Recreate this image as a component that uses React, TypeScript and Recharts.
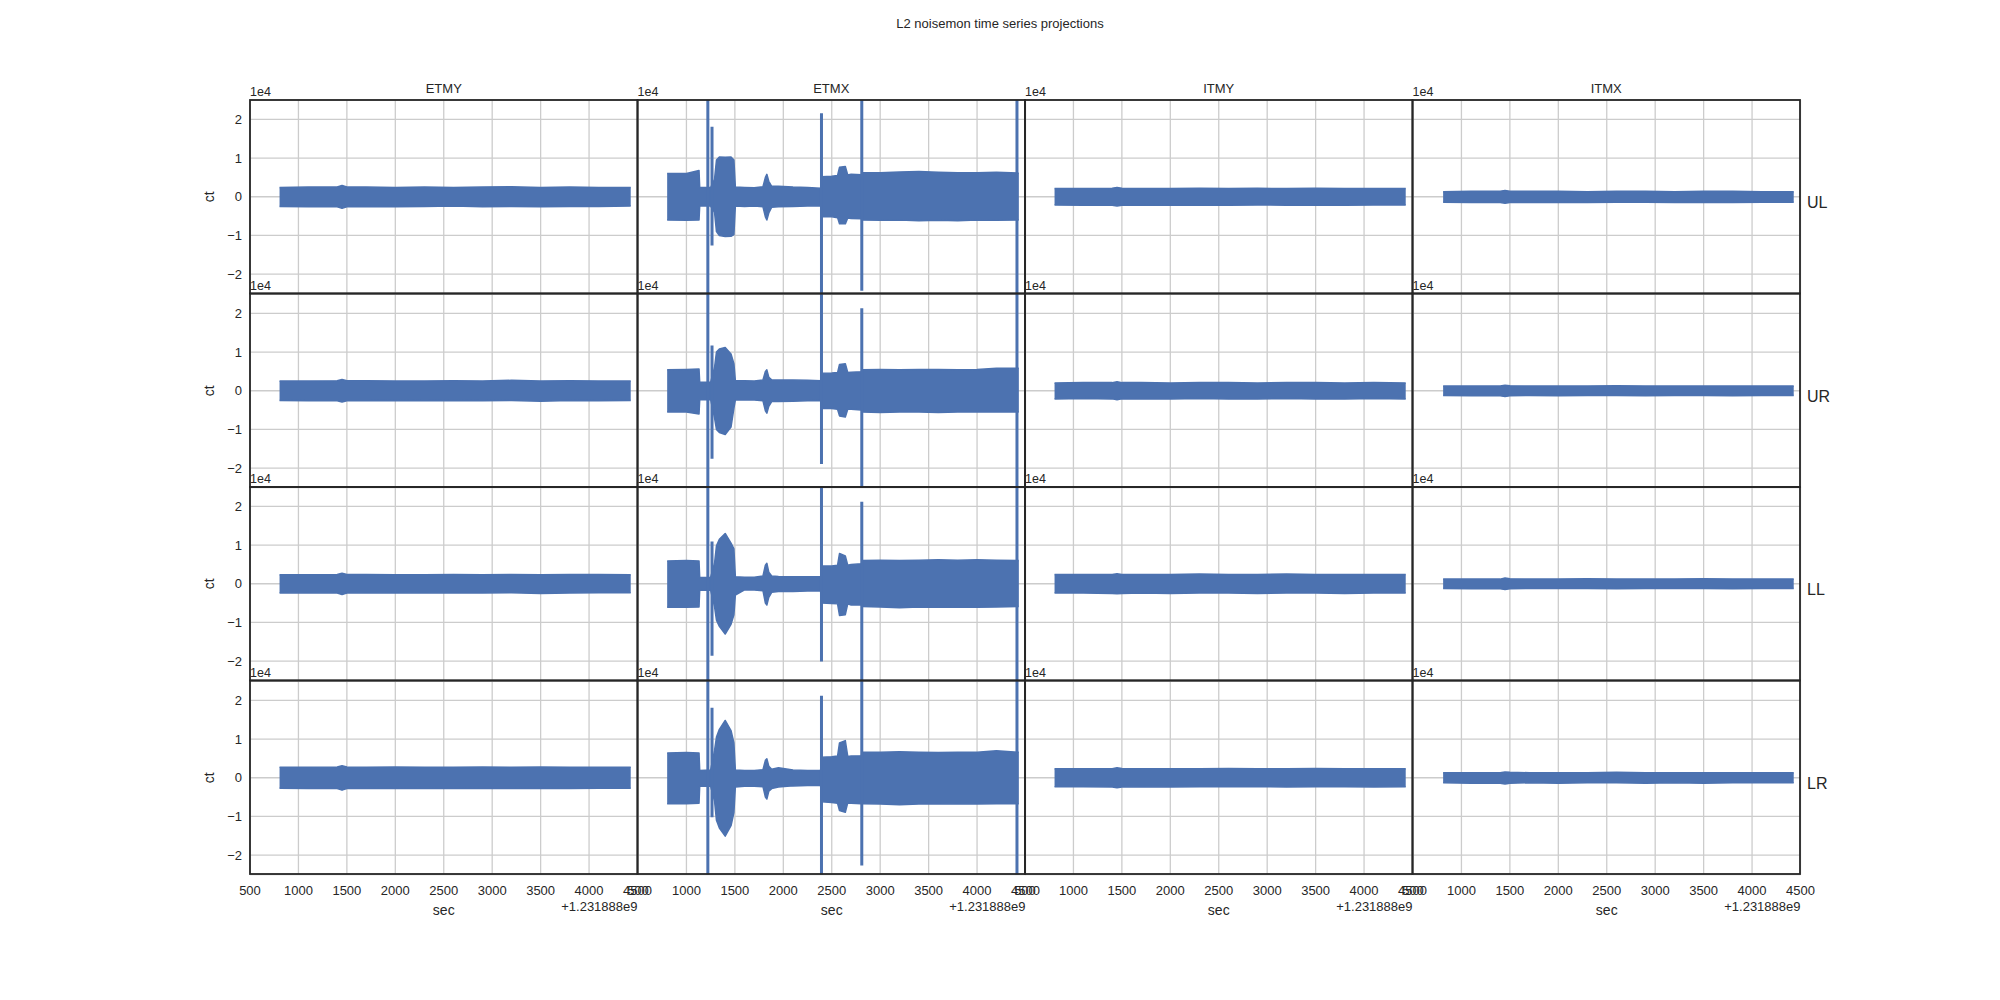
import React from 'react';
import {
  ComposedChart,
  Area,
  XAxis,
  YAxis,
  CartesianGrid,
  ReferenceLine,
  Label
} from 'recharts';

const columns = ['ETMY', 'ETMX', 'ITMY', 'ITMX'];
const rows = ['UL', 'UR', 'LL', 'LR'];
const xTicks = [500, 1000, 1500, 2000, 2500, 3000, 3500, 4000, 4500];
const yTicks = [-2, -1, 0, 1, 2];

// quiet optics: envelope of the noise band (units of 1e4 ct), sec after 1.231888e9
const flatTime = [805, 1100, 1400, 1450, 1500, 1700, 2000, 2300, 2600, 2900, 3200, 3500, 3800, 4100, 4430];
const itmxTime = [811, 1100, 1400, 1450, 1500, 1700, 2000, 2300, 2600, 2900, 3200, 3500, 3800, 4100, 4430];

const etmyUlHi = [0.24, 0.25, 0.25, 0.29, 0.25, 0.25, 0.24, 0.25, 0.24, 0.25, 0.26, 0.24, 0.25, 0.24, 0.24];
const etmyUlLo = [-0.25, -0.26, -0.26, -0.3, -0.26, -0.25, -0.26, -0.25, -0.24, -0.26, -0.25, -0.26, -0.25, -0.25, -0.24];
const etmyUrHi = [0.25, 0.25, 0.26, 0.29, 0.26, 0.26, 0.25, 0.25, 0.26, 0.25, 0.27, 0.25, 0.26, 0.25, 0.25];
const etmyUrLo = [-0.25, -0.26, -0.26, -0.29, -0.26, -0.26, -0.25, -0.26, -0.25, -0.26, -0.25, -0.27, -0.25, -0.26, -0.25];
const etmyLlHi = [0.23, 0.23, 0.24, 0.27, 0.24, 0.24, 0.23, 0.23, 0.24, 0.23, 0.24, 0.23, 0.24, 0.24, 0.23];
const etmyLlLo = [-0.24, -0.23, -0.24, -0.28, -0.24, -0.23, -0.24, -0.23, -0.24, -0.24, -0.23, -0.25, -0.24, -0.23, -0.23];
const etmyLrHi = [0.27, 0.27, 0.28, 0.31, 0.28, 0.27, 0.28, 0.27, 0.27, 0.28, 0.27, 0.28, 0.27, 0.27, 0.27];
const etmyLrLo = [-0.27, -0.28, -0.28, -0.32, -0.28, -0.28, -0.27, -0.28, -0.27, -0.28, -0.28, -0.27, -0.28, -0.27, -0.27];

const itmyUlHi = [0.21, 0.21, 0.22, 0.24, 0.22, 0.21, 0.21, 0.22, 0.21, 0.22, 0.21, 0.22, 0.21, 0.21, 0.21];
const itmyUlLo = [-0.21, -0.22, -0.22, -0.24, -0.22, -0.21, -0.22, -0.21, -0.22, -0.21, -0.22, -0.21, -0.22, -0.21, -0.21];
const itmyUrHi = [0.2, 0.21, 0.21, 0.23, 0.21, 0.21, 0.2, 0.21, 0.21, 0.2, 0.21, 0.21, 0.2, 0.21, 0.2];
const itmyUrLo = [-0.21, -0.2, -0.21, -0.23, -0.21, -0.21, -0.21, -0.2, -0.21, -0.21, -0.2, -0.21, -0.21, -0.2, -0.21];
const itmyLlHi = [0.24, 0.24, 0.24, 0.26, 0.24, 0.24, 0.24, 0.25, 0.24, 0.24, 0.25, 0.24, 0.24, 0.24, 0.24];
const itmyLlLo = [-0.24, -0.24, -0.25, -0.26, -0.25, -0.24, -0.25, -0.24, -0.24, -0.25, -0.24, -0.24, -0.25, -0.24, -0.24];
const itmyLrHi = [0.23, 0.23, 0.23, 0.26, 0.24, 0.23, 0.23, 0.23, 0.24, 0.23, 0.23, 0.24, 0.23, 0.23, 0.23];
const itmyLrLo = [-0.23, -0.23, -0.24, -0.26, -0.24, -0.23, -0.24, -0.23, -0.23, -0.23, -0.24, -0.23, -0.23, -0.24, -0.23];

const itmxUlHi = [0.13, 0.14, 0.14, 0.16, 0.14, 0.14, 0.14, 0.13, 0.14, 0.14, 0.13, 0.14, 0.14, 0.13, 0.13];
const itmxUlLo = [-0.14, -0.15, -0.15, -0.17, -0.15, -0.15, -0.14, -0.15, -0.14, -0.14, -0.15, -0.14, -0.15, -0.14, -0.14];
const itmxUrHi = [0.12, 0.12, 0.12, 0.14, 0.13, 0.12, 0.12, 0.12, 0.13, 0.12, 0.12, 0.12, 0.12, 0.12, 0.12];
const itmxUrLo = [-0.12, -0.13, -0.13, -0.15, -0.13, -0.12, -0.13, -0.12, -0.12, -0.13, -0.12, -0.12, -0.13, -0.12, -0.12];
const itmxLlHi = [0.12, 0.12, 0.12, 0.15, 0.13, 0.12, 0.12, 0.13, 0.12, 0.12, 0.12, 0.13, 0.12, 0.12, 0.12];
const itmxLlLo = [-0.12, -0.13, -0.13, -0.15, -0.13, -0.12, -0.12, -0.12, -0.13, -0.12, -0.12, -0.12, -0.13, -0.12, -0.12];
const itmxLrHi = [0.13, 0.13, 0.13, 0.15, 0.14, 0.13, 0.13, 0.13, 0.14, 0.13, 0.13, 0.13, 0.13, 0.13, 0.13];
const itmxLrLo = [-0.13, -0.14, -0.14, -0.16, -0.14, -0.13, -0.14, -0.13, -0.13, -0.14, -0.13, -0.14, -0.13, -0.13, -0.13];

// ETMX: bursts and glitches
const etmxTime = [
  801, 1000, 1130, 1137, 1250, 1290, 1310, 1340, 1400, 1460, 1490, 1505, 1600, 1700,
  1790, 1815, 1830, 1850, 1880, 1950, 2100, 2250, 2385, 2395, 2500, 2560, 2580, 2640,
  2665, 2700, 2805, 2815, 3000, 3200, 3400, 3600, 3800, 4000, 4200, 4430
];
const etmxUlHi = [
  0.6, 0.6, 0.68, 0.24, 0.24, 0.45, 0.95, 1.03, 1.02, 1.03, 0.95, 0.25, 0.24, 0.23,
  0.26, 0.5, 0.58, 0.4, 0.27, 0.27, 0.25, 0.24, 0.22, 0.52, 0.53, 0.55, 0.76, 0.78,
  0.56, 0.58, 0.57, 0.62, 0.62, 0.64, 0.65, 0.63, 0.62, 0.62, 0.63, 0.61
];
const etmxUlLo = [
  -0.6, -0.61, -0.6, -0.24, -0.24, -0.4, -0.9, -1.0, -1.03, -1.02, -0.98, -0.24, -0.25, -0.24,
  -0.26, -0.52, -0.6, -0.42, -0.27, -0.26, -0.25, -0.24, -0.23, -0.52, -0.52, -0.54, -0.7, -0.7,
  -0.55, -0.56, -0.57, -0.6, -0.61, -0.6, -0.62, -0.61, -0.62, -0.6, -0.61, -0.6
];
const etmxUrHi = [
  0.54, 0.55, 0.56, 0.22, 0.22, 0.6, 1.0, 1.08, 1.12, 0.95, 0.7, 0.26, 0.26, 0.25,
  0.28, 0.5, 0.54, 0.35, 0.28, 0.28, 0.28, 0.27, 0.26, 0.45, 0.46, 0.47, 0.68, 0.7,
  0.47, 0.48, 0.49, 0.54, 0.55, 0.54, 0.55, 0.55, 0.54, 0.55, 0.58, 0.58
];
const etmxUrLo = [
  -0.55, -0.55, -0.6, -0.23, -0.23, -0.7, -1.0, -1.08, -1.13, -0.94, -0.45, -0.24, -0.24, -0.24,
  -0.26, -0.52, -0.58, -0.4, -0.28, -0.28, -0.27, -0.26, -0.25, -0.46, -0.46, -0.48, -0.65, -0.68,
  -0.48, -0.48, -0.5, -0.55, -0.56, -0.55, -0.55, -0.56, -0.55, -0.55, -0.55, -0.55
];
const etmxLlHi = [
  0.59, 0.6, 0.59, 0.16, 0.17, 0.53, 0.98, 1.15, 1.3, 1.05, 0.9, 0.18, 0.17, 0.17,
  0.2, 0.48, 0.53, 0.3, 0.2, 0.19, 0.18, 0.18, 0.18, 0.46, 0.46, 0.48, 0.78, 0.72,
  0.48, 0.5, 0.52, 0.6, 0.61, 0.6, 0.61, 0.62, 0.61, 0.62, 0.61, 0.6
];
const etmxLlLo = [
  -0.61, -0.61, -0.6, -0.16, -0.17, -0.59, -0.94, -1.1, -1.3, -1.05, -0.8, -0.29, -0.16, -0.16,
  -0.18, -0.5, -0.55, -0.35, -0.22, -0.2, -0.2, -0.19, -0.19, -0.5, -0.51, -0.52, -0.82, -0.8,
  -0.52, -0.55, -0.55, -0.59, -0.6, -0.62, -0.6, -0.61, -0.6, -0.61, -0.6, -0.59
];
const etmxLrHi = [
  0.64, 0.65, 0.64, 0.19, 0.2, 0.7, 1.05, 1.25, 1.48, 1.22, 0.9, 0.2, 0.19, 0.19,
  0.21, 0.45, 0.49, 0.3, 0.22, 0.26, 0.2, 0.19, 0.19, 0.53, 0.54, 0.56, 0.9, 0.96,
  0.55, 0.56, 0.57, 0.66, 0.66, 0.67, 0.66, 0.65, 0.66, 0.66, 0.7, 0.66
];
const etmxLrLo = [
  -0.67, -0.67, -0.66, -0.22, -0.22, -0.6, -1.1, -1.3, -1.51, -1.24, -0.9, -0.24, -0.22, -0.22,
  -0.23, -0.5, -0.55, -0.35, -0.28, -0.24, -0.21, -0.2, -0.2, -0.62, -0.64, -0.66, -0.85, -0.89,
  -0.65, -0.66, -0.67, -0.67, -0.68, -0.7, -0.68, -0.68, -0.67, -0.68, -0.67, -0.67
];

// ETMX glitches: time and vertical extent (beyond +-2.5 is clipped by the axes)
const etmxSpikeTime = [1221, 1264, 2394, 2810, 4412];
const etmxUlSpikeLo = [-3, -1.26, -3, -2.43, -3];
const etmxUlSpikeHi = [3, 1.81, 2.16, 3, 3];
const etmxUrSpikeLo = [-3, -1.76, -1.89, -3, -3];
const etmxUrSpikeHi = [3, 1.17, 3, 2.13, 3];
const etmxLlSpikeLo = [-3, -1.86, -2.01, -3, -3];
const etmxLlSpikeHi = [3, 1.09, 3, 2.12, 3];
const etmxLrSpikeLo = [-3, -1.02, -3, -2.27, -3];
const etmxLrSpikeHi = [3, 1.81, 2.12, 3, 3];

const BLUE = '#4c72b0';
const TEXT = '#262626';
const FONT = '"Liberation Sans", Arial, sans-serif';

const PLOT_LEFT = 250;
const PLOT_TOP = 100;
const CELL_W = 387.5;
const CELL_H = 193.5;
const ML = 60;
const MR = 20;
const MT = 10;
const MB = 50;
const Y_AXIS_W = 50;
const X_AXIS_H = 45;

type PanelData = {
  time: number[];
  hi: number[];
  lo: number[];
  spikeTime: number[];
  spikeLo: number[];
  spikeHi: number[];
};

const none: number[] = [];

// rows x columns lookup
const panels: PanelData[][] = [
  [
    { time: flatTime, hi: etmyUlHi, lo: etmyUlLo, spikeTime: none, spikeLo: none, spikeHi: none },
    { time: etmxTime, hi: etmxUlHi, lo: etmxUlLo, spikeTime: etmxSpikeTime, spikeLo: etmxUlSpikeLo, spikeHi: etmxUlSpikeHi },
    { time: flatTime, hi: itmyUlHi, lo: itmyUlLo, spikeTime: none, spikeLo: none, spikeHi: none },
    { time: itmxTime, hi: itmxUlHi, lo: itmxUlLo, spikeTime: none, spikeLo: none, spikeHi: none }
  ],
  [
    { time: flatTime, hi: etmyUrHi, lo: etmyUrLo, spikeTime: none, spikeLo: none, spikeHi: none },
    { time: etmxTime, hi: etmxUrHi, lo: etmxUrLo, spikeTime: etmxSpikeTime, spikeLo: etmxUrSpikeLo, spikeHi: etmxUrSpikeHi },
    { time: flatTime, hi: itmyUrHi, lo: itmyUrLo, spikeTime: none, spikeLo: none, spikeHi: none },
    { time: itmxTime, hi: itmxUrHi, lo: itmxUrLo, spikeTime: none, spikeLo: none, spikeHi: none }
  ],
  [
    { time: flatTime, hi: etmyLlHi, lo: etmyLlLo, spikeTime: none, spikeLo: none, spikeHi: none },
    { time: etmxTime, hi: etmxLlHi, lo: etmxLlLo, spikeTime: etmxSpikeTime, spikeLo: etmxLlSpikeLo, spikeHi: etmxLlSpikeHi },
    { time: flatTime, hi: itmyLlHi, lo: itmyLlLo, spikeTime: none, spikeLo: none, spikeHi: none },
    { time: itmxTime, hi: itmxLlHi, lo: itmxLlLo, spikeTime: none, spikeLo: none, spikeHi: none }
  ],
  [
    { time: flatTime, hi: etmyLrHi, lo: etmyLrLo, spikeTime: none, spikeLo: none, spikeHi: none },
    { time: etmxTime, hi: etmxLrHi, lo: etmxLrLo, spikeTime: etmxSpikeTime, spikeLo: etmxLrSpikeLo, spikeHi: etmxLrSpikeHi },
    { time: flatTime, hi: itmyLrHi, lo: itmyLrLo, spikeTime: none, spikeLo: none, spikeHi: none },
    { time: itmxTime, hi: itmxLrHi, lo: itmxLrLo, spikeTime: none, spikeLo: none, spikeHi: none }
  ]
];

const fmtY = (v: number) => (v < 0 ? '\u2212' + Math.abs(v) : String(v));

const renderXLabel = (props: any) => {
  const vb = props.viewBox || {};
  return (
    <g>
      <text x={vb.x + vb.width / 2} y={vb.y + 40} textAnchor="middle" fontSize={14} fill={TEXT} fontFamily={FONT}>
        sec
      </text>
      <text x={vb.x + vb.width} y={vb.y + 36} textAnchor="end" fontSize={13} fill={TEXT} fontFamily={FONT}>
        +1.231888e9
      </text>
    </g>
  );
};

const renderYLabel = (props: any) => {
  const vb = props.viewBox || {};
  const x = vb.x + vb.width - 36;
  const y = vb.y + vb.height / 2;
  return (
    <text x={x} y={y} transform={`rotate(-90 ${x} ${y})`} textAnchor="middle" fontSize={14} fill={TEXT} fontFamily={FONT}>
      ct
    </text>
  );
};

const Panel: React.FC<{ row: number; col: number }> = ({ row, col }) => {
  const p = panels[row][col];
  const data = p.time.map((t, i) => ({ t, band: [p.lo[i], p.hi[i]] }));
  const showY = col === 0;
  const showX = row === rows.length - 1;
  return (
    <div
      style={{
        position: 'absolute',
        left: PLOT_LEFT + col * CELL_W - ML,
        top: PLOT_TOP + row * CELL_H - MT
      }}
    >
      <ComposedChart
        width={CELL_W + ML + MR}
        height={CELL_H + MT + MB}
        data={data}
        margin={{
          top: MT,
          right: MR,
          left: showY ? ML - Y_AXIS_W : ML,
          bottom: showX ? MB - X_AXIS_H : MB
        }}
      >
        <CartesianGrid stroke="#cccccc" strokeWidth={1.3} />
        <XAxis
          dataKey="t"
          type="number"
          domain={[500, 4500]}
          ticks={xTicks}
          interval={0}
          allowDataOverflow
          hide={!showX}
          height={X_AXIS_H}
          axisLine={false}
          tickLine={false}
          tickSize={0}
          tickMargin={11}
          tick={{ fontSize: 13, fill: TEXT, fontFamily: FONT }}
          label={<Label content={renderXLabel} />}
        />
        <YAxis
          type="number"
          domain={[-2.5, 2.5]}
          ticks={yTicks}
          interval={0}
          allowDataOverflow
          hide={!showY}
          width={Y_AXIS_W}
          axisLine={false}
          tickLine={false}
          tickSize={0}
          tickMargin={8}
          tickFormatter={fmtY}
          tick={{ fontSize: 13, fill: TEXT, fontFamily: FONT }}
          label={<Label content={renderYLabel} />}
        />
        <Area
          dataKey="band"
          type="linear"
          fill={BLUE}
          fillOpacity={1}
          stroke={BLUE}
          strokeWidth={1.5}
          strokeLinejoin="round"
          dot={false}
          activeDot={false}
          isAnimationActive={false}
        />
        {p.spikeTime.map((t, i) => (
          <ReferenceLine
            key={i}
            segment={[
              { x: t, y: p.spikeLo[i] },
              { x: t, y: p.spikeHi[i] }
            ]}
            stroke={BLUE}
            strokeWidth={3}
            ifOverflow="hidden"
          />
        ))}
      </ComposedChart>
    </div>
  );
};

const App: React.FC = () => {
  return (
    <div
      style={{
        position: 'absolute',
        left: 0,
        top: 0,
        width: 2000,
        height: 1000,
        background: '#ffffff',
        fontFamily: FONT,
        overflow: 'hidden'
      }}
    >
      {rows.map((_, r) =>
        columns.map((__, c) => <Panel key={`${r}-${c}`} row={r} col={c} />)
      )}
      <svg
        width={2000}
        height={1000}
        style={{ position: 'absolute', left: 0, top: 0, pointerEvents: 'none' }}
      >
        <text x={1000} y={28} textAnchor="middle" fontSize={13} fill={TEXT} fontFamily={FONT}>
          L2 noisemon time series projections
        </text>
        {columns.map((name, c) => (
          <text
            key={name}
            x={PLOT_LEFT + c * CELL_W + CELL_W / 2}
            y={93}
            textAnchor="middle"
            fontSize={13}
            fill={TEXT}
            fontFamily={FONT}
          >
            {name}
          </text>
        ))}
        {rows.map((name, r) => (
          <text
            key={name}
            x={PLOT_LEFT + 4 * CELL_W + 7}
            y={PLOT_TOP + r * CELL_H + CELL_H / 2 + 11.5}
            fontSize={16}
            fill={TEXT}
            fontFamily={FONT}
          >
            {name}
          </text>
        ))}
        {rows.map((_, r) =>
          columns.map((__, c) => (
            <g key={`f-${r}-${c}`}>
              <rect
                x={PLOT_LEFT + c * CELL_W}
                y={PLOT_TOP + r * CELL_H}
                width={CELL_W}
                height={CELL_H}
                fill="none"
                stroke={TEXT}
                strokeWidth={1.8}
              />
              <text
                x={PLOT_LEFT + c * CELL_W}
                y={PLOT_TOP + r * CELL_H - 4}
                fontSize={12.5}
                fill={TEXT}
                fontFamily={FONT}
              >
                1e4
              </text>
            </g>
          ))
        )}
      </svg>
    </div>
  );
};

export default App;
